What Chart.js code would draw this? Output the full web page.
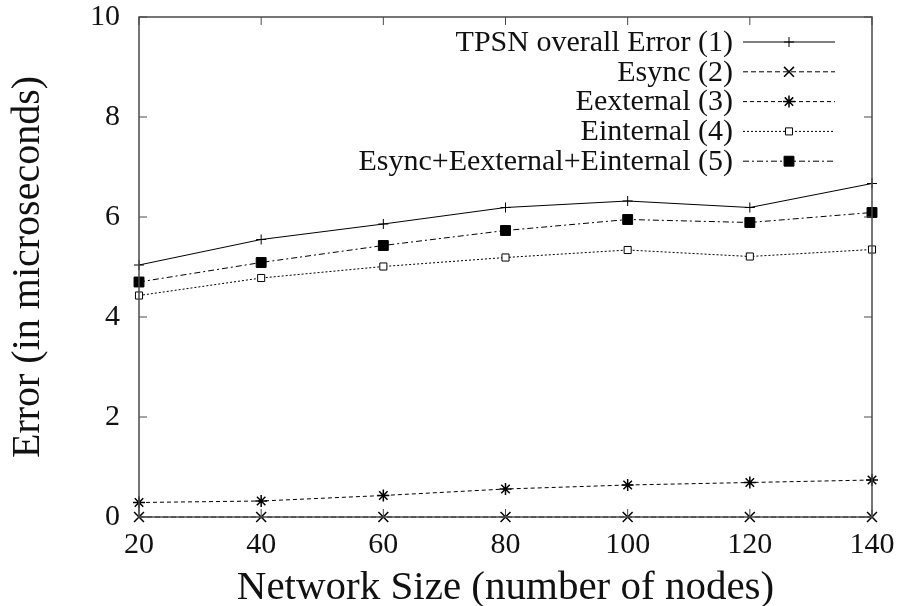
<!DOCTYPE html>
<html>
<head>
<meta charset="utf-8">
<title>TPSN error vs network size</title>
<script src="https://cdn.jsdelivr.net/npm/chart.js@4/dist/chart.umd.min.js"></script>
<style>
  html, body { margin: 0; padding: 0; background: #fff; }
  #wrap { width: 900px; height: 606px; }
</style>
</head>
<body>
<div id="wrap"><canvas id="errChart" width="900" height="606"></canvas></div>
<script>
// Network sizes (number of nodes)
const nodeCounts = [20, 40, 60, 80, 100, 120, 140];

// Error values in microseconds
const tpsnOverall = [5.04, 5.55, 5.86, 6.19, 6.32, 6.19, 6.67];
const eSync = [0, 0, 0, 0, 0, 0, 0];
const eExternal = [0.29, 0.32, 0.43, 0.56, 0.64, 0.69, 0.74];
const eInternal = [4.43, 4.78, 5.01, 5.19, 5.34, 5.21, 5.35];
const eSum = [4.70, 5.09, 5.43, 5.73, 5.95, 5.89, 6.09];

const seriesNames = [
    'TPSN overall Error (1)',
    'Esync (2)',
    'Eexternal (3)',
    'Einternal (4)',
    'Esync+Eexternal+Einternal (5)'
];

const xTicks = [20, 40, 60, 80, 100, 120, 140];
const yTicks = [0, 2, 4, 6, 8, 10];

const serif = '"Liberation Serif", "DejaVu Serif", serif';
const axisColor = '#4a4a4a';

function toPoints(values) {
    return nodeCounts.map((n, i) => ({ x: n, y: values[i] }));
}

function makeSet(label, values, style) {
    return Object.assign({
        label: label,
        data: toPoints(values),
        borderColor: '#000',
        backgroundColor: '#000',
        pointBorderColor: '#000',
        borderWidth: 1,
        pointBorderWidth: 1,
        tension: 0,
        fill: false,
        clip: false
    }, style);
}

const datasets = [
    makeSet(seriesNames[0], tpsnOverall, { pointStyle: 'cross', pointRadius: 5, borderDash: [] }),
    makeSet(seriesNames[1], eSync, { pointStyle: 'crossRot', pointRadius: 7, pointBorderWidth: 1.5, borderDash: [5, 3] }),
    makeSet(seriesNames[2], eExternal, { pointStyle: 'star', pointRadius: 6, pointBorderWidth: 1.5, borderDash: [4, 3] }),
    makeSet(seriesNames[3], eInternal, { pointStyle: 'rect', pointRadius: 5, pointBackgroundColor: '#fff', borderDash: [2, 2] }),
    makeSet(seriesNames[4], eSum, { pointStyle: 'rect', pointRadius: 7, pointBackgroundColor: '#000', borderDash: [6, 3, 2, 3] })
];

// Box round the plot with inward ticks on every side
const framePlugin = {
    id: 'frame',
    afterDatasetsDraw(chart) {
        const { ctx, chartArea: a, scales } = chart;
        const len = 8;
        ctx.save();
        ctx.strokeStyle = axisColor;
        ctx.lineWidth = 1.5;
        ctx.strokeRect(a.left, a.top, a.right - a.left, a.bottom - a.top);
        ctx.beginPath();
        xTicks.forEach(v => {
            const px = scales.x.getPixelForValue(v);
            ctx.moveTo(px, a.bottom); ctx.lineTo(px, a.bottom - len);
            ctx.moveTo(px, a.top); ctx.lineTo(px, a.top + len);
        });
        yTicks.forEach(v => {
            const py = scales.y.getPixelForValue(v);
            ctx.moveTo(a.left, py); ctx.lineTo(a.left + len, py);
            ctx.moveTo(a.right, py); ctx.lineTo(a.right - len, py);
        });
        ctx.lineWidth = 1;
        ctx.stroke();
        ctx.restore();
    }
};

// Legend inside the plot: right-aligned label, line sample with marker to its right
const keyPlugin = {
    id: 'key',
    afterDraw(chart) {
        const { ctx, chartArea: a } = chart;
        const textRight = a.right - 139;
        const lineLeft = a.right - 129;
        const lineRight = a.right - 37;
        const top = a.top + 25;
        const rowH = 29.8;
        ctx.save();
        ctx.font = '30px ' + serif;
        ctx.textAlign = 'right';
        ctx.textBaseline = 'middle';
        chart.data.datasets.forEach((ds, i) => {
            const y = top + i * rowH;
            ctx.fillStyle = '#111';
            ctx.fillText(ds.label, textRight, y + 1);
            ctx.strokeStyle = '#000';
            ctx.lineWidth = 1;
            ctx.setLineDash(ds.borderDash || []);
            ctx.beginPath();
            ctx.moveTo(lineLeft, y);
            ctx.lineTo(lineRight, y);
            ctx.stroke();
            ctx.setLineDash([]);
            ctx.fillStyle = ds.pointBackgroundColor || '#000';
            ctx.lineWidth = ds.pointBorderWidth || 1;
            Chart.helpers.drawPoint(ctx, {
                pointStyle: ds.pointStyle,
                radius: ds.pointRadius,
                rotation: 0,
                borderWidth: ds.pointBorderWidth || 1
            }, (lineLeft + lineRight) / 2, y);
        });
        ctx.restore();
    }
};

new Chart(document.getElementById('errChart'), {
    type: 'line',
    data: { datasets: datasets },
    plugins: [framePlugin, keyPlugin],
    options: {
        responsive: false,
        animation: false,
        layout: { padding: { top: 17, right: 28, left: 0, bottom: 0 } },
        plugins: {
            legend: { display: false },
            tooltip: { enabled: false }
        },
        scales: {
            x: {
                type: 'linear',
                min: 20,
                max: 140,
                afterBuildTicks(scale) { scale.ticks = xTicks.map(v => ({ value: v })); },
                afterFit(scale) {
                    scale.height = 89;
                    scale.paddingLeft = 0;
                    scale.paddingRight = 0;
                },
                grid: { display: false, drawTicks: false },
                border: { display: false },
                ticks: { color: '#111', padding: 10, maxRotation: 0, font: { family: serif, size: 30 } },
                title: {
                    display: true,
                    text: 'Network Size (number of nodes)',
                    color: '#111',
                    padding: { top: 0, bottom: -7 },
                    font: { family: serif, size: 41 }
                }
            },
            y: {
                min: 0,
                max: 10,
                afterBuildTicks(scale) { scale.ticks = yTicks.map(v => ({ value: v })); },
                afterFit(scale) {
                    scale.width = 139;
                    scale.paddingTop = 0;
                    scale.paddingBottom = 0;
                },
                grid: { display: false, drawTicks: false },
                border: { display: false },
                ticks: { color: '#111', padding: 19, font: { family: serif, size: 30 } },
                title: {
                    display: true,
                    text: 'Error (in microseconds)',
                    color: '#111',
                    padding: { top: 4, bottom: 0 },
                    font: { family: serif, size: 40 }
                }
            }
        }
    }
});
</script>
</body>
</html>
